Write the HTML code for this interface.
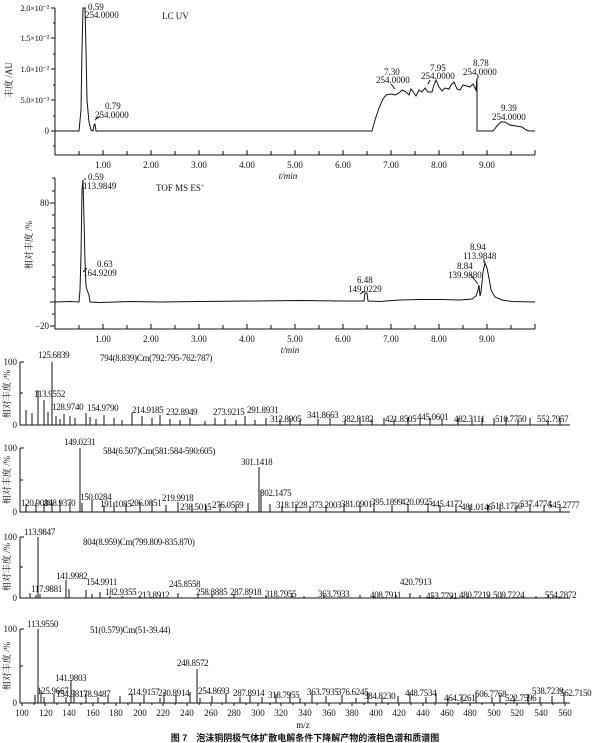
<!DOCTYPE html>
<html><head><meta charset="utf-8"><style>
html,body{margin:0;padding:0;background:#fff}
svg{display:block}
text{font-family:"Liberation Serif","Noto Serif CJK SC",serif;font-size:9px;fill:#111}
.s{font-size:8.5px;letter-spacing:-0.3px}
.c{font-family:"Liberation Sans","Noto Sans CJK SC",sans-serif}
</style></head><body>
<svg width="600" height="743" viewBox="0 0 600 743" xmlns="http://www.w3.org/2000/svg">
<g stroke="#111" stroke-width="1" fill="none">
<path d="M55 8V155H535"/>
<path d="M55 8h-4M55 23h-2M55 38h-4M55 54h-2M55 69h-4M55 85h-2M55 100h-4M55 116h-2M55 131h-4M55 146h-2"/>
<path d="M79 155v-4M103 155v-5M127 155v-4M151 155v-5M175 155v-4M199 155v-5M223 155v-4M247 155v-5M271 155v-4M295 155v-5M319 155v-4M343 155v-5M367 155v-4M391 155v-5M415 155v-4M439 155v-5M463 155v-4M487 155v-5M511 155v-4M535 155v-5"/>
<path d="M55 131H79L81 110L82 50L83 8L85 8L86 50L87 100L89 122L91 130L93 131L94 125L95 124L96 131H372L375 120L379 108L383 99L386 95L391 94L395 95L399 93L402 90L406 92L409 95L411 89L414 93L416 96L419 90L422 92L425 88L428 92L432 92L434 85L436 80L439 87L442 91L445 88L449 89L451 85L454 82L457 89L460 90L463 85L467 86L470 87L473 84L476 90L477 78L477 131H493L497 126L501 122L505 122L510 125L516 126L522 127L526 130L529 131H535"/>
<path d="M86 8h-3M100 116L95 120M391 84l4 5M430 80l-2 4M478 75v3"/>
<path d="M55 178V329H535"/>
<path d="M55 178h-3M55 191h-3M55 203h-5M55 215h-3M55 228h-3M55 240h-3M55 252h-3M55 265h-3M55 277h-3M55 289h-3M55 302h-5M55 314h-3M55 326h-5"/>
<path d="M79 329v-4M103 329v-5M127 329v-4M151 329v-5M175 329v-4M199 329v-5M223 329v-4M247 329v-5M271 329v-4M295 329v-5M319 329v-4M343 329v-5M367 329v-4M391 329v-5M415 329v-4M439 329v-5M463 329v-4M487 329v-5M511 329v-4M535 329v-5"/>
<path d="M55 302L70 301.5L79 302L80 290L81 255L82 190L83 180L84 220L85 262L86 286L87 290L89 295L90 302L100 302.5L130 301.5L160 302L200 301.5L250 301L300 300.5L340 301L364 301L365 293L367 293L368 301L380 301.5L400 300L420 299.5L440 299.5L460 300L472 299L476 296L478 290L479 285L480 296L481 292L483 272L485 263L487 268L489 278L491 290L495 297L502 300L512 301.5L535 302"/>
<path d="M86 179h-2M87 268l-4 4M360 294l5 -3M470 274l8 10M484 259v4"/>
<path d="M20 362V425H570M20 362h4M20 393h3"/>
<path d="M20 448V512H570M20 448h4M20 480h3"/>
<path d="M20 537V598H570M20 537h4M20 567h3"/>
<path d="M20 629V703H570M20 629h4M20 666h3"/>
<path d="M22 703v3M34 703v2M45 703v3M57 703v2M69 703v3M81 703v2M93 703v3M104 703v2M116 703v3M128 703v2M140 703v3M152 703v2M163 703v3M175 703v2M187 703v3M199 703v2M211 703v3M222 703v2M234 703v3M246 703v2M258 703v3M270 703v2M281 703v3M293 703v2M305 703v3M317 703v2M329 703v3M340 703v2M352 703v3M364 703v2M376 703v3M388 703v2M399 703v3M411 703v2M423 703v3M435 703v2M447 703v3M458 703v2M470 703v3M482 703v2M494 703v3M506 703v2M517 703v3M529 703v2M541 703v3M553 703v2M565 703v3"/>
<path d="M52 425V362M38 425V390M44 425V400M26 425V410M32 425V413M48 425V412M56 425V416M60 425V419M64 425V414M70 425V416M75 425V418M86 425V413M90 425V417M96 425V419M104 425V415M114 425V418M122 425V420M132 425V413M142 425V416M152 425V418M160 425V415M170 425V419M180 425V420M190 425V418M205 425V421M215 425V418M225 425V419M236 425V420M245 425V416M255 425V420M266 425V418M280 425V419M290 425V418M300 425V420M318 425V419M330 425V418M345 425V420M360 425V417M372 425V419M384 425V418M394 425V419M408 425V417M420 425V419M430 425V418M442 425V419M458 425V418M472 425V419M482 425V418M494 425V418M506 425V417M518 425V419M530 425V418M548 425V420M560 425V418"/>
<path d="M80 512V448M259 512V467M261 512V490M26 512V504M36 512V503M44 512V504M52 512V503M60 512V501M70 512V502M82 512V503M92 512V500M104 512V505M114 512V502M126 512V504M140 512V503M152 512V500M166 512V505M178 512V502M192 512V504M206 512V505M220 512V504M236 512V505M248 512V503M270 512V504M282 512V506M296 512V504M310 512V506M326 512V505M344 512V504M360 512V505M374 512V503M392 512V505M408 512V504M428 512V503M440 512V505M456 512V504M470 512V505M488 512V505M500 512V504M516 512V506M530 512V504M544 512V505M560 512V504"/>
<path d="M38 598V537M36 598V595M40 598V594M30 598V593M66 598V580M69 598V589M86 598V590M92 598V594M100 598V592M110 598V596M122 598V596M140 598V596M160 598V595M178 598V593M198 598V595M212 598V594M234 598V594M250 598V596M266 598V595M292 598V593M304 598V596M324 598V595M340 598V597M360 598V595M374 598V596M396 598V595M410 598V593M420 598V595M432 598V596M452 598V596M468 598V596M488 598V595M502 598V596M522 598V597M536 598V596M548 598V595M560 598V596"/>
<path d="M38 703V629M35 703V695M41 703V690M44 703V697M54 703V694M66 703V697M71 703V680M74 703V690M86 703V693M98 703V697M108 703V695M120 703V696M132 703V693M144 703V695M160 703V698M164 703V692M176 703V694M190 703V692M197 703V669M200 703V698M212 703V696M226 703V693M240 703V697M250 703V695M262 703V697M276 703V694M290 703V693M300 703V698M312 703V693M326 703V696M342 703V695M356 703V698M368 703V693M382 703V697M398 703V696M410 703V692M426 703V697M436 703V693M448 703V698M462 703V696M476 703V692M492 703V697M500 703V695M514 703V696M528 703V694M540 703V697M552 703V696M564 703V693"/>
</g>
<text x="49" y="11" text-anchor="end" class="s">2.0×10⁻²</text>
<text x="49" y="41" text-anchor="end" class="s">1.5×10⁻²</text>
<text x="49" y="72" text-anchor="end" class="s">1.0×10⁻²</text>
<text x="49" y="103" text-anchor="end" class="s">5.0×10⁻³</text>
<text x="49" y="134" text-anchor="end">0</text>
<text transform="translate(12 80) rotate(-90)" text-anchor="middle">丰度 /AU</text>
<text x="88" y="10">0.59</text><text x="85" y="18">254.0000</text>
<text x="162" y="19">LC UV</text>
<text x="105" y="109">0.79</text><text x="95" y="118">254.0000</text>
<text x="384" y="75">7.30</text><text x="376" y="83">254.0000</text>
<text x="430" y="71">7.95</text><text x="421" y="79">254.0000</text>
<text x="473" y="66">8.78</text><text x="463" y="75">254.0000</text>
<text x="501" y="111">9.39</text><text x="492" y="120">254.0000</text>
<g text-anchor="middle"><text x="103" y="168">1.00</text><text x="151" y="168">2.00</text><text x="199" y="168">3.00</text><text x="247" y="168">4.00</text><text x="295" y="168">5.00</text><text x="343" y="168">6.00</text><text x="391" y="168">7.00</text><text x="439" y="168">8.00</text><text x="487" y="168">9.00</text>
<text x="288" y="179" font-style="italic">t/min</text>
<text x="103" y="342">1.00</text><text x="151" y="342">2.00</text><text x="199" y="342">3.00</text><text x="247" y="342">4.00</text><text x="295" y="342">5.00</text><text x="343" y="342">6.00</text><text x="391" y="342">7.00</text><text x="439" y="342">8.00</text><text x="487" y="342">9.00</text>
<text x="290" y="353" font-style="italic">t/min</text></g>
<text x="49" y="206" text-anchor="end">80</text>
<text x="49" y="329" text-anchor="end">−20</text>
<text transform="translate(32 245) rotate(-90)" text-anchor="middle">相对丰度 /%</text>
<text x="88" y="180">0.59</text><text x="83" y="189">113.9849</text>
<text x="156" y="191">TOF MS ES<tspan font-size="6" dy="-3">+</tspan></text>
<text x="97" y="267">0.63</text><text x="83" y="276">164.9209</text>
<text x="357" y="283">6.48</text><text x="348" y="292">149.0229</text>
<text x="457" y="269">8.84</text><text x="448" y="278">139.9880</text>
<text x="470" y="250">8.94</text><text x="463" y="259">113.9848</text>
<g text-anchor="end"><text x="17" y="365">100</text><text x="17" y="428">0</text>
<text x="17" y="451">100</text><text x="17" y="515">0</text>
<text x="17" y="540">100</text><text x="17" y="601">0</text>
<text x="17" y="632">100</text><text x="17" y="706">0</text></g>
<g text-anchor="middle">
<text transform="translate(10 394) rotate(-90)">相对丰度 /%</text>
<text transform="translate(10 480) rotate(-90)">相对丰度 /%</text>
<text transform="translate(10 567) rotate(-90)">相对丰度 /%</text>
<text transform="translate(10 666) rotate(-90)">相对丰度 /%</text>
</g>
<g class="s">
<text x="38" y="358">125.6839</text><text x="100" y="361">794(8.839)Cm(792:795-762:787)</text>
<text x="34" y="397">113.9552</text><text x="52" y="410">128.9740</text><text x="87" y="411">154.9790</text><text x="132" y="413">214.9185</text><text x="166" y="415">232.8949</text><text x="213" y="415">273.9215</text><text x="247" y="413">291.8931</text><text x="270" y="422">312.8905</text><text x="307" y="418">341.8663</text><text x="342" y="422">382.8182</text><text x="385" y="422">421.8505</text><text x="417" y="420">445.0601</text><text x="454" y="422">482.3111</text><text x="495" y="422">510.7750</text><text x="537" y="422">552.7957</text>
<text x="64" y="445">149.0231</text><text x="103" y="454">584(6.507)Cm(581:584-590:605)</text>
<text x="241" y="465">301.1418</text><text x="260" y="496">302.1475</text>
<text x="21" y="506">120.9089</text><text x="44" y="506">148.9370</text><text x="80" y="500">150.0284</text><text x="100" y="507">191.1085</text><text x="130" y="506">206.0851</text><text x="162" y="501">219.9918</text><text x="180" y="510">238.5015</text><text x="212" y="508">276.0559</text><text x="276" y="508">318.1228</text><text x="310" y="508">373.2003</text><text x="341" y="507">381.0901</text><text x="371" y="505">395.1899</text><text x="401" y="505">420.0925</text><text x="431" y="507">445.4172</text><text x="461" y="510">481.0146</text><text x="491" y="509">513.1750</text><text x="520" y="507">537.4774</text><text x="548" y="508">545.2777</text>
<text x="24" y="535">113.9847</text><text x="83" y="545">804(8.959)Cm(799.809-835.870)</text>
<text x="31" y="592">117.9881</text><text x="56" y="579">141.9982</text><text x="86" y="585">154.9911</text><text x="105" y="595">182.9355</text><text x="138" y="598">213.8912</text><text x="169" y="587">245.8558</text><text x="196" y="595">258.8885</text><text x="230" y="595">287.8918</text><text x="265" y="597">318.7955</text><text x="318" y="597">363.7933</text><text x="370" y="598">408.7911</text><text x="400" y="585">420.7913</text><text x="426" y="599">453.7791</text><text x="459" y="598">480.7219</text><text x="493" y="598">509.7224</text><text x="545" y="598">554.7872</text>
<text x="27" y="627">113.9550</text><text x="90" y="633">51(0.579)Cm(51-39.44)</text>
<text x="55" y="681">141.9803</text><text x="177" y="666">248.8572</text>
<text x="37" y="694">125.9667</text><text x="56" y="697">154.9817</text><text x="79" y="697">178.9487</text><text x="128" y="695">214.9157</text><text x="158" y="696">230.8914</text><text x="198" y="694">254.8693</text><text x="233" y="696">287.8914</text><text x="268" y="698">318.7955</text><text x="307" y="695">363.7935</text><text x="337" y="695">376.6245</text><text x="364" y="699">384.8230</text><text x="405" y="696">448.7534</text><text x="444" y="701">464.7261</text><text x="475" y="697">506.7768</text><text x="505" y="701">522.7596</text><text x="532" y="694">538.7239</text><text x="560" y="696">562.7150</text>
</g>
<g text-anchor="middle">
<text x="22" y="716">100</text><text x="46" y="716">120</text><text x="69" y="716">140</text><text x="93" y="716">160</text><text x="116" y="716">180</text><text x="140" y="716">200</text><text x="163" y="716">220</text><text x="187" y="716">240</text><text x="211" y="716">260</text><text x="234" y="716">280</text><text x="258" y="716">300</text><text x="281" y="716">320</text><text x="305" y="716">340</text><text x="329" y="716">360</text><text x="352" y="716">380</text><text x="376" y="716">400</text><text x="399" y="716">420</text><text x="423" y="716">440</text><text x="447" y="716">460</text><text x="470" y="716">480</text><text x="494" y="716">500</text><text x="517" y="716">520</text><text x="541" y="716">540</text><text x="565" y="716">560</text>
<text x="303" y="728">m/z</text>
<text x="305" y="741" class="c" font-weight="bold" font-size="11">图 7　泡沫铜阴极气体扩散电解条件下降解产物的液相色谱和质谱图</text>
</g>
</svg>
</body></html>
